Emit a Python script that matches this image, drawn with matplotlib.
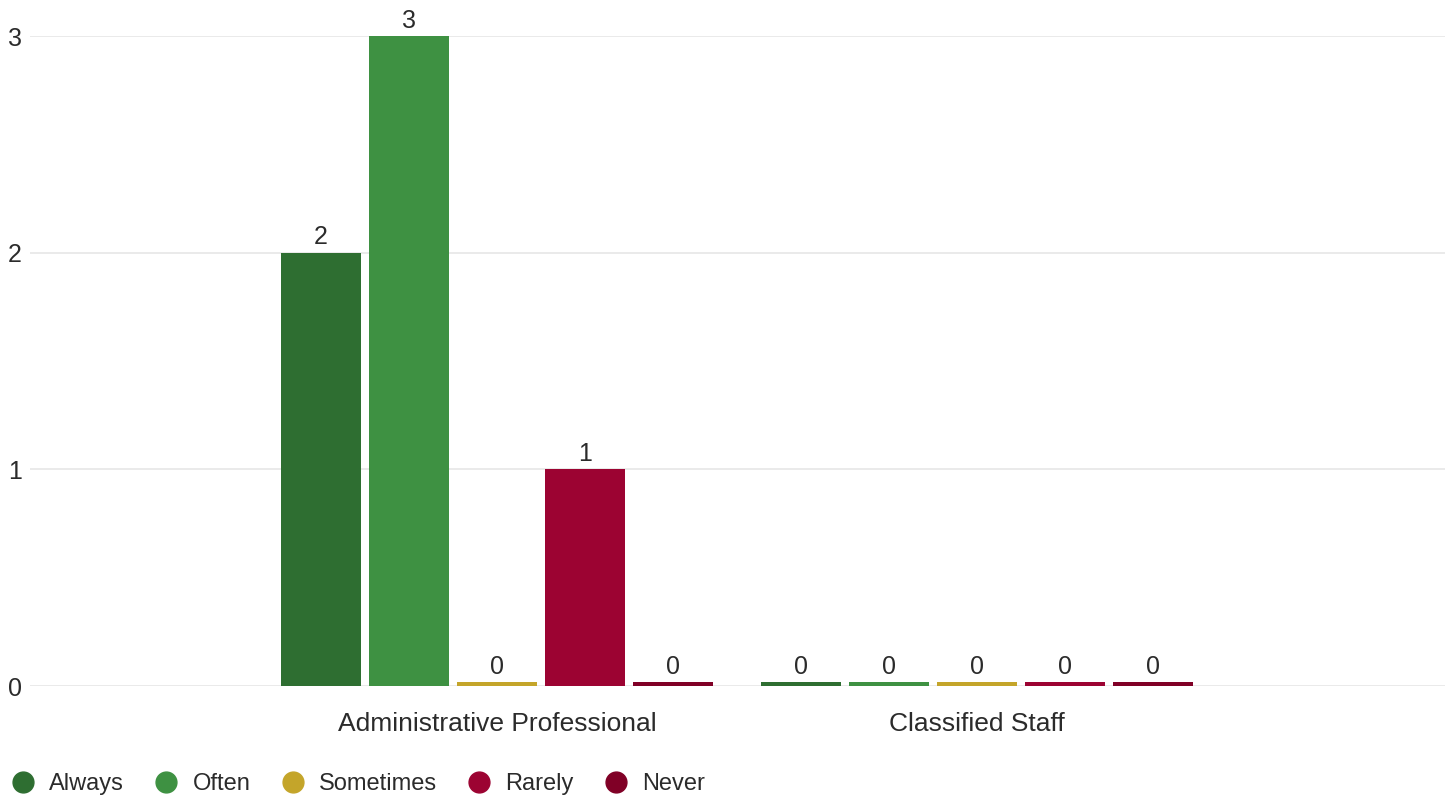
import numpy as np
import matplotlib
matplotlib.use('Agg')
import matplotlib.pyplot as plt
from matplotlib.lines import Line2D

# --- data ---
categories = ['Administrative Professional', 'Classified Staff']
series = ['Always', 'Often', 'Sometimes', 'Rarely', 'Never']
values = {
    'Always':    [2, 0],
    'Often':     [3, 0],
    'Sometimes': [0, 0],
    'Rarely':    [1, 0],
    'Never':     [0, 0],
}
colors = ['#2e6e31', '#3e9142', '#c4a52a', '#9c0332', '#800026']

plt.rcParams['font.family'] = ['Liberation Sans', 'DejaVu Sans']
txt = '#2b2b2b'

fig = plt.figure(figsize=(14.51, 7.99), dpi=100)
ax = fig.add_axes([30/1451, 113/799, 1415/1451, 650/799])

x = np.arange(len(categories))
w = 0.1667
step = 0.1833
min_h = 0.018  # zero bars still show as a thin strip

for i, (s, c) in enumerate(zip(series, colors)):
    vals = np.array(values[s], dtype=float)
    pos = x + (i - 2) * step
    ax.bar(pos, np.maximum(vals, min_h), width=w, color=c, zorder=3, clip_on=False)
    for p, v in zip(pos, vals):
        ax.text(p, max(v, min_h) + 0.015, '%d' % v, ha='center', va='bottom',
                fontsize=18, color=txt)

ax.set_xlim(-0.973, 1.975)
ax.set_ylim(0, 3)
ax.set_yticks([0, 1, 2, 3])
ax.yaxis.grid(True, color='#e6e6e6', linewidth=1.2, zorder=0)
ax.set_axisbelow(True)
for sp in ax.spines.values():
    sp.set_visible(False)
ax.tick_params(axis='y', length=0, labelsize=18, labelcolor=txt, pad=6)
ax.tick_params(axis='x', length=0, labelsize=19, labelcolor=txt, pad=19)
ax.set_xticks(x)
ax.set_xticklabels(categories)

handles = [Line2D([], [], marker='o', linestyle='', markersize=15,
                  markerfacecolor=c, markeredgecolor=c) for c in colors]
fig.legend(handles, series, loc='lower left', bbox_to_anchor=(-0.0085, -0.022),
           ncol=5, frameon=False, fontsize=17, labelcolor=txt,
           handletextpad=0.5, columnspacing=1.2, handlelength=1.2)

fig.savefig('out.png', dpi=100)
